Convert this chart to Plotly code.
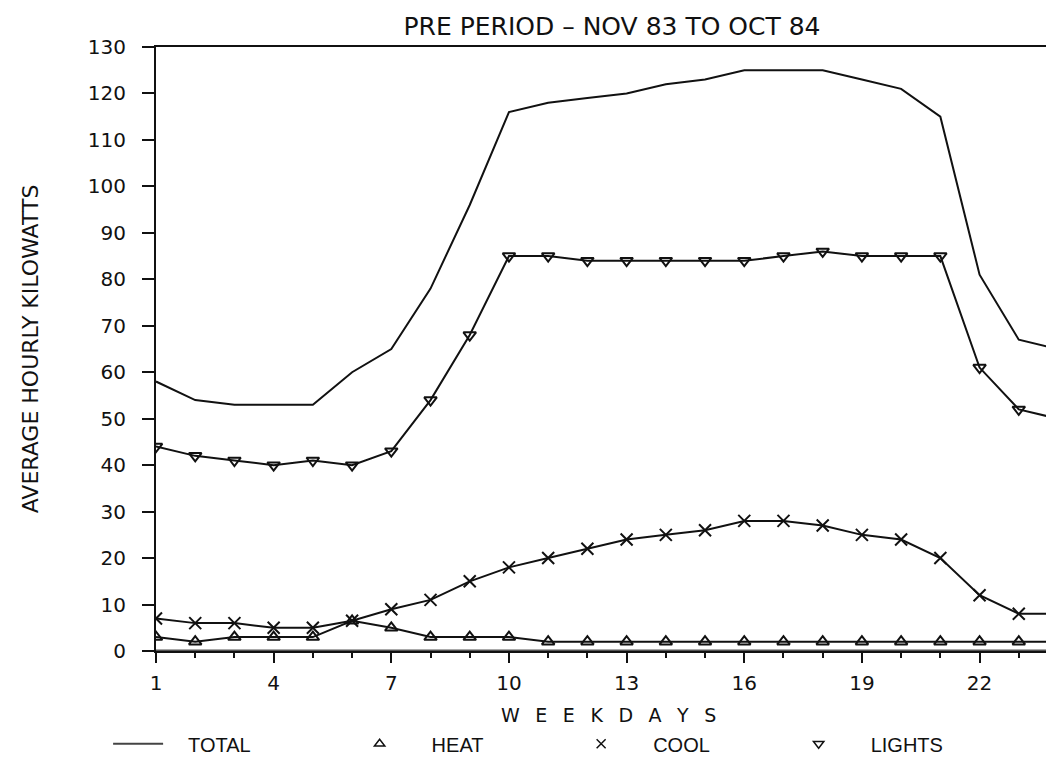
import plotly.graph_objects as go

hours = list(range(1, 25))
total = [58, 54, 53, 53, 53, 60, 65, 78, 96, 116, 118, 119, 120, 122, 123, 125, 125, 125, 123, 121, 115, 81, 67, 65]
heat = [3, 2, 3, 3, 3, 6.5, 5, 3, 3, 3, 2, 2, 2, 2, 2, 2, 2, 2, 2, 2, 2, 2, 2, 2]
cool = [7, 6, 6, 5, 5, 6.5, 9, 11, 15, 18, 20, 22, 24, 25, 26, 28, 28, 27, 25, 24, 20, 12, 8, 8]
lights = [44, 42, 41, 40, 41, 40, 43, 54, 68, 85, 85, 84, 84, 84, 84, 84, 85, 86, 85, 85, 85, 61, 52, 50]
baseline = [0] * 24

title_text = "PRE PERIOD \u2013 NOV 83 TO OCT 84"
y_title = "AVERAGE HOURLY KILOWATTS"
x_title = " \u2002".join("WEEKDAYS")

INK = "#111111"
FONT = "DejaVu Sans"

fig = go.Figure()

fig.add_trace(go.Scatter(x=hours, y=baseline, mode="lines",
                         line=dict(color="#555555", width=3), showlegend=False, hoverinfo="skip"))
fig.add_trace(go.Scatter(x=hours, y=total, mode="lines", name="TOTAL",
                         line=dict(color=INK, width=2), showlegend=False))
fig.add_trace(go.Scatter(x=hours, y=heat, mode="lines+markers", name="HEAT",
                         line=dict(color=INK, width=2),
                         marker=dict(symbol="triangle-up-open", size=11, color=INK, line=dict(width=2)),
                         showlegend=False))
fig.add_trace(go.Scatter(x=hours, y=cool, mode="lines+markers", name="COOL",
                         line=dict(color=INK, width=2),
                         marker=dict(symbol="x-thin-open", size=12, color=INK, line=dict(width=2, color=INK)),
                         showlegend=False))
fig.add_trace(go.Scatter(x=hours, y=lights, mode="lines+markers", name="LIGHTS",
                         line=dict(color=INK, width=2),
                         marker=dict(symbol="triangle-down-open", size=11, color=INK, line=dict(width=2)),
                         showlegend=False))

# legend-only entries
fig.add_trace(go.Scatter(x=[None], y=[None], mode="lines", name="\u2003TOTAL",
                         line=dict(color="#444444", width=2), legend="legend"))
fig.add_trace(go.Scatter(x=[None], y=[None], mode="markers", name="HEAT",
                         marker=dict(symbol="triangle-up-open", size=9, color=INK, line=dict(width=1.5)),
                         legend="legend2"))
fig.add_trace(go.Scatter(x=[None], y=[None], mode="markers", name="COOL",
                         marker=dict(symbol="x-thin-open", size=9, color=INK, line=dict(width=1.5, color=INK)),
                         legend="legend3"))
fig.add_trace(go.Scatter(x=[None], y=[None], mode="markers", name="LIGHTS",
                         marker=dict(symbol="triangle-down-open", size=9, color=INK, line=dict(width=1.5)),
                         legend="legend4"))

legfont = dict(family="Liberation Sans", size=20, color=INK)
ly = (651 - 745) / 612
common = dict(orientation="h", yanchor="middle", y=ly, xanchor="left",
              font=legfont, bgcolor="rgba(0,0,0,0)", borderwidth=0)
px2paper = lambda px: (px - 148) / 904.0

fig.update_layout(
    width=1054, height=757,
    margin=dict(l=148, r=2, t=39, b=106),
    paper_bgcolor="white", plot_bgcolor="white",
    font=dict(family=FONT, color=INK),
    title=dict(text=title_text, x=px2paper(605), xref="paper", xanchor="center",
               y=1 - 18 / 757, yref="container", yanchor="middle",
               font=dict(family=FONT, size=25, color=INK)),
    xaxis=dict(range=[1, 24], tick0=1, dtick=3, ticks="outside", ticklen=10, tickwidth=2,
               tickcolor=INK, showline=True, linewidth=2, linecolor=INK, mirror=True,
               showgrid=False, zeroline=False, tickfont=dict(family=FONT, size=20, color=INK),
               ticklabelstandoff=3,
               minor=dict(tick0=1, dtick=1, ticks="outside", ticklen=5, tickwidth=2, tickcolor=INK)),
    yaxis=dict(range=[0, 130], tick0=0, dtick=10, ticks="outside", ticklen=12, tickwidth=2,
               tickcolor=INK, showline=True, linewidth=2, linecolor=INK, mirror=True,
               showgrid=False, zeroline=False, tickfont=dict(family=FONT, size=20, color=INK),
               ticklabelstandoff=12),
    legend=dict(**common, x=px2paper(100), itemwidth=50),
    legend2=dict(**common, x=px2paper(320), itemwidth=94),
    legend3=dict(**common, x=px2paper(542), itemwidth=94),
    legend4=dict(**common, x=px2paper(760), itemwidth=94),
    annotations=[
        dict(text=y_title, xref="paper", yref="paper", x=px2paper(22), y=0.5,
             xanchor="center", yanchor="middle", textangle=-90, showarrow=False,
             font=dict(family=FONT, size=22, color=INK)),
        dict(text=x_title, xref="paper", yref="paper", x=px2paper(602), y=(651 - 716) / 612,
             xanchor="center", yanchor="middle", showarrow=False,
             font=dict(family=FONT, size=19, color=INK)),
    ],
)

fig.write_html("out.html")
